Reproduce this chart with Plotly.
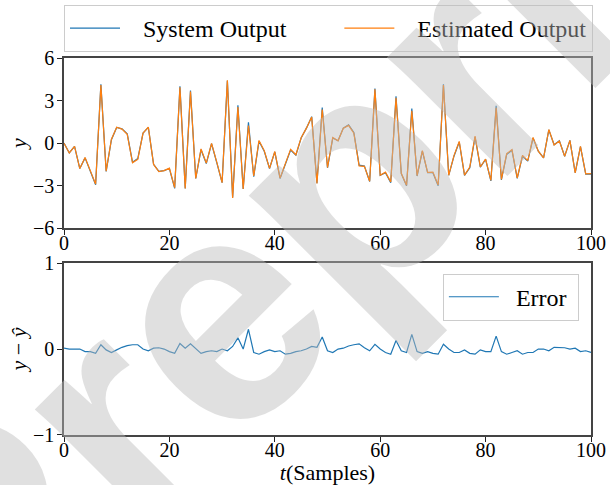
import plotly.graph_objects as go

t = list(range(101))
system_output = [
    0.0, -0.7, -0.23, -1.8, -1.05, -2.0, -2.95, 4.14, -2.0, 0.23,
    1.1, 1.0, 0.65, -1.35, -1.1, 0.7, 1.1, -1.5, -2.0, -1.95,
    -1.8, -3.2, 4.0, -3.2, 3.7, -2.5, -0.47, -1.45, -0.05, -1.4,
    -2.8, 4.4, -3.85, 2.67, -3.25, 1.47, -2.37, 0.12, -0.58, -1.8,
    -0.63, -2.5, -1.5, -0.5, -0.86, 0.35, 1.05, 1.86, -2.84, 2.5,
    -1.75, 0.35, 0.16, 1.05, 1.28, 0.74, -1.56, -1.63, -2.72, 3.84,
    -2.28, -2.1, -2.8, 3.3, -2.16, -3.02, 2.44, -2.33, -0.58, -2.1,
    -2.1, -3.02, 4.14, -2.28, -0.93, 0.07, -2.28, -1.75, 0.42, -1.7,
    -1.16, -2.67, 2.63, -2.6, -0.81, -0.51, -2.49, -0.93, -1.28, 0.35,
    -0.58, -1.05, 0.93, -0.12, 0.16, -0.93, 0.19, -2.1, -0.26, -2.2,
    -2.2,
]
error = [
    0.01, 0.0, 0.0, 0.0, -0.03, -0.03, -0.05, 0.05, -0.01, -0.04,
    -0.01, 0.02, 0.04, 0.05, 0.05, 0.0, -0.02, 0.01, 0.015, 0.0,
    -0.03, -0.05, 0.065, 0.01, 0.06, 0.0, -0.05, -0.03, -0.02, -0.03,
    0.0, -0.02, 0.03, 0.13, 0.0, 0.23, -0.04, -0.06, -0.03, -0.01,
    -0.03, -0.02, -0.06, -0.05, -0.03, -0.02, 0.0, 0.03, 0.02, 0.14,
    -0.02, -0.04, 0.0, 0.01, 0.035, 0.05, 0.06, 0.015, -0.02, 0.055,
    0.0, -0.04, -0.06, 0.1, -0.02, -0.04, 0.17, -0.03, -0.05, -0.03,
    -0.05, -0.06, 0.055, 0.0, -0.04, -0.04, -0.01, -0.05, -0.06, -0.01,
    -0.03, -0.03, 0.15, -0.03, -0.06, -0.04, -0.02, -0.06, -0.04, -0.04,
    0.0, 0.0, -0.02, 0.02, 0.02, 0.015, 0.0, 0.01, -0.03, -0.02,
    -0.04,
]
estimated_output = [s - e for s, e in zip(system_output, error)]

x_ticks = [0, 20, 40, 60, 80, 100]
y1_ticks = [-6, -3, 0, 3, 6]
y2_ticks = [-1, 0, 1]

def lab(v):
    return ("\u2212" + str(abs(v))) if v < 0 else str(v)

FONT = "Liberation Serif"
NB = "\u00a0"
fig = go.Figure()
fig.add_trace(go.Scatter(x=t, y=system_output, mode="lines", name=NB * 3 + "System Output" + NB * 8,
                         line=dict(color="#1f77b4", width=1.2), xaxis="x", yaxis="y", legend="legend"))
fig.add_trace(go.Scatter(x=t, y=estimated_output, mode="lines", name=NB * 3 + "Estimated Output",
                         line=dict(color="#ff7f0e", width=1.2), xaxis="x", yaxis="y", legend="legend"))
fig.add_trace(go.Scatter(x=t, y=error, mode="lines", name=NB * 2 + "Error" + NB,
                         line=dict(color="#1f77b4", width=1.2), xaxis="x2", yaxis="y2", legend="legend2"))

ax = dict(showline=True, mirror=True, linecolor="#444444", linewidth=1.5, ticks="outside",
          ticklen=5, tickwidth=1, tickcolor="#222", showgrid=False, zeroline=False,
          tickfont=dict(family=FONT, size=20, color="black"))
xax = dict(ax, ticklabelstandoff=-9)
yax = dict(ax, ticklabelstandoff=-1)

fig.update_layout(
    width=610, height=485,
    margin=dict(l=64, r=19, t=58, b=50, autoexpand=False),
    paper_bgcolor="white", plot_bgcolor="white",
    font=dict(family=FONT, size=20, color="black"),
    xaxis=dict(xax, domain=[0, 1], anchor="y", range=[0, 100], tickvals=x_ticks,
               ticktext=[lab(v) for v in x_ticks]),
    yaxis=dict(yax, domain=[0.549, 1], anchor="x", range=[-6, 6], tickvals=y1_ticks,
               ticktext=[lab(v) for v in y1_ticks],
               title=dict(text="<i>y</i>", font=dict(family=FONT, size=22), standoff=0)),
    xaxis2=dict(xax, domain=[0, 1], anchor="y2", range=[0, 100], tickvals=x_ticks,
                ticktext=[lab(v) for v in x_ticks],
                title=dict(text="<i>t</i>(Samples)", font=dict(family=FONT, size=22), standoff=10)),
    yaxis2=dict(yax, domain=[0, 0.456], anchor="x2", range=[-1, 1], tickvals=y2_ticks,
                ticktext=[lab(v) for v in y2_ticks],
                title=dict(text="<i>y</i> \u2212 <i>\u0177</i>", font=dict(family=FONT, size=22), standoff=0)),
    legend=dict(orientation="h", x=0, xanchor="left", y=1.016, yanchor="bottom",
                bordercolor="#cccccc", borderwidth=1, bgcolor="white",
                font=dict(family=FONT, size=24), itemwidth=50),
    legend2=dict(x=0.977, xanchor="right", y=0.428, yanchor="top",
                 bordercolor="#cccccc", borderwidth=1, bgcolor="white",
                 font=dict(family=FONT, size=24), itemwidth=50),
    annotations=[dict(text="<b>Preprint</b>", xref="paper", yref="paper", x=0.533, y=0.668,
                      xanchor="center", yanchor="middle",
                      showarrow=False, textangle=-45,
                      font=dict(family="Liberation Sans", size=320, color="rgba(187,187,187,0.45)"))],
)

fig.write_html("out.html")
